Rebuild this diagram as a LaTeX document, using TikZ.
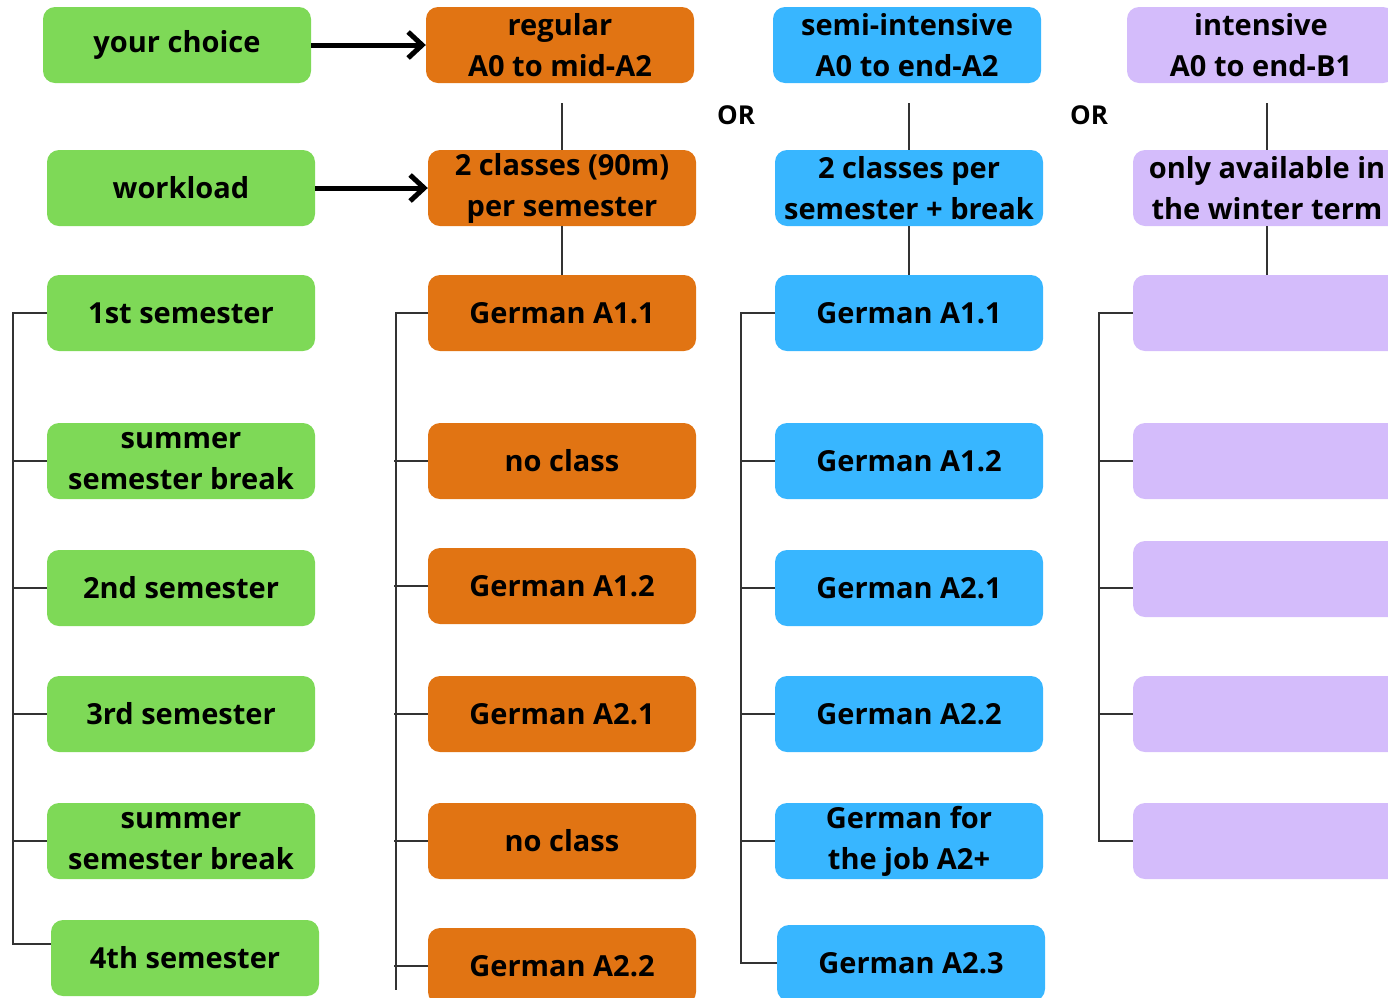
\documentclass[tikz,border=0pt]{standalone}
\usepackage{fontspec}
\setmainfont{Open Sans}
\usetikzlibrary{arrows.meta}
\definecolor{grn}{HTML}{7ED957}
\definecolor{org}{HTML}{E17413}
\definecolor{blu}{HTML}{38B6FF}
\definecolor{prp}{HTML}{D4BCFB}
\begin{document}
\begin{tikzpicture}[x=1pt,y=-1pt,
  box/.style={rounded corners=12pt, minimum width=268pt, minimum height=76pt, inner sep=0pt, align=center, font=\bfseries\fontsize{29}{41}\selectfont},
  link/.style={line width=1.6pt, draw=black!80},
  bigarrow/.style={line width=5pt, -{Straight Barb[length=14pt,width=26pt]}}]
\clip (0,0) rectangle (1388,997);
\node[box, fill=grn] (g1) at (177,45) {your choice};
\node[box, fill=grn] (g2) at (181,188) {workload};
\node[box, fill=grn] (g3) at (181,313) {1st semester};
\node[box, fill=grn] (g4) at (181,461) {summer\\semester break};
\node[box, fill=grn] (g5) at (181,588) {2nd semester};
\node[box, fill=grn] (g6) at (181,714) {3rd semester};
\node[box, fill=grn] (g7) at (181,841) {summer\\semester break};
\node[box, fill=grn] (g8) at (185,958) {4th semester};
\node[box, fill=org] (o1) at (560,45) {regular\\A0 to mid-A2};
\node[box, fill=org] (o2) at (562,188) {2 classes (90m)\\per semester};
\node[box, fill=org] (o3) at (562,313) {German A1.1};
\node[box, fill=org] (o4) at (562,461) {no class};
\node[box, fill=org] (o5) at (562,586) {German A1.2};
\node[box, fill=org] (o6) at (562,714) {German A2.1};
\node[box, fill=org] (o7) at (562,841) {no class};
\node[box, fill=org] (o8) at (562,966) {German A2.2};
\node[box, fill=blu] (b1) at (907,45) {semi-intensive\\A0 to end-A2};
\node[box, fill=blu] (b2) at (909,188) {2 classes per\\semester + break};
\node[box, fill=blu] (b3) at (909,313) {German A1.1};
\node[box, fill=blu] (b4) at (909,461) {German A1.2};
\node[box, fill=blu] (b5) at (909,588) {German A2.1};
\node[box, fill=blu] (b6) at (909,714) {German A2.2};
\node[box, fill=blu] (b7) at (909,841) {German for\\the job A2+};
\node[box, fill=blu] (b8) at (911,963) {German A2.3};
\node[box, fill=prp] (p1) at (1261,45) {intensive\\A0 to end-B1};
\node[box, fill=prp] (p2) at (1267,188) {only available in\\the winter term};
\node[box, fill=prp] (p3) at (1267,313) {};
\node[box, fill=prp] (p4) at (1267,461) {};
\node[box, fill=prp] (p5) at (1267,579) {};
\node[box, fill=prp] (p6) at (1267,714) {};
\node[box, fill=prp] (p7) at (1267,841) {};
\node[font=\bfseries\fontsize{26}{30}\selectfont] (or1) at (736,115) {OR};
\node[font=\bfseries\fontsize{26}{30}\selectfont] (or2) at (1089,115) {OR};
\draw[bigarrow] (g1) -- (o1);
\draw[bigarrow] (g2) -- (o2);
\draw[link] (o2.north |- o1.south)+(0,20) -- (o2.north);
\draw[link] (o2) -- (o3);
\draw[link] (b2.north |- b1.south)+(0,20) -- (b2.north);
\draw[link] (b2) -- (b3);
\draw[link] (p2.north |- p1.south)+(0,20) -- (p2.north);
\draw[link] (p2) -- (p3);
\coordinate (gtop) at (13,313);
\coordinate (otop) at (396,313);
\coordinate (obot) at (396,990);
\coordinate (btop) at (741,313);
\coordinate (ptop) at (1099,313);
\draw[link] (g3.west) -- (gtop) |- ([yshift=14pt]g8.west);
\draw[link] (o3.west) -- (otop) -- (obot);
\draw[link] (b3.west) -- (btop) |- (b8.west);
\draw[link] (p3.west) -- (ptop) |- (p7.west);
\foreach \n in {g4,g5,g6,g7,o4,o5,o6,o7,o8}
  \draw[link] (\n.west) -- ++(-34,0);
\foreach \n in {b4,b5,b6,b7,p4,p6}
  \draw[link] (\n.west) -- ++(-34,0);
\draw[link] ([yshift=-9pt]p5.west) -- ++(-35,0);
\end{tikzpicture}
\end{document}
